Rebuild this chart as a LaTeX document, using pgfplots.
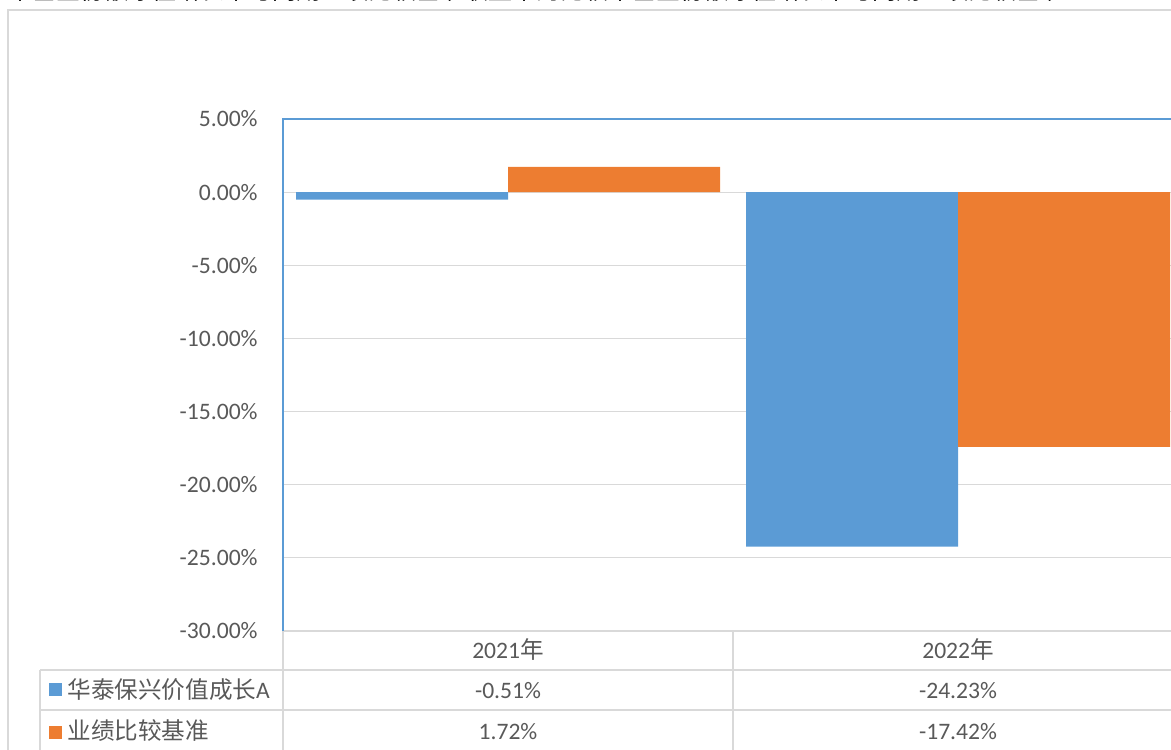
\documentclass[border=0pt]{standalone}
\usepackage{pgfplots}
\pgfplotsset{compat=1.18}
\usepackage{fontspec}
\setmainfont{Carlito}
\newfontfamily\cjk{Noto Sans CJK SC}
\definecolor{sblue}{HTML}{5B9BD5}
\definecolor{sorange}{HTML}{ED7D31}
\definecolor{gridc}{HTML}{D9D9D9}
\definecolor{txt}{HTML}{595959}
\begin{document}
\begin{tikzpicture}
\useasboundingbox (0,0) rectangle (585.5pt,-374.5pt);
\begin{scope}[x=0.5pt,y=-0.5pt]
 \node[anchor=base west, inner sep=0pt, font=\cjk\fontsize{12}{14}\selectfont] at (8,-0.6) {本基金份额净值增长率与同期业绩比较基准收益率的比较本基金份额净值增长率与同期业绩比较基准};
 \draw[gridc, line width=1pt] (8,760) -- (8,10) -- (1180,10);
 \draw[gridc, line width=1pt] (283,631) -- (1180,631);
 \draw[gridc, line width=1pt] (40,670) -- (1180,670);
 \draw[gridc, line width=1pt] (40,710) -- (1180,710);
 \draw[gridc, line width=1pt] (40,670) -- (40,760);
 \draw[gridc, line width=1pt] (283,631) -- (283,760);
 \draw[gridc, line width=1pt] (733,631) -- (733,760);
 \begin{scope}[every node/.style={text=txt, inner sep=0pt, anchor=base, font=\fontsize{11.8}{14}\selectfont}]
  \node at (508,658) {2021{\cjk 年}};
  \node at (958,658) {2022{\cjk 年}};
  \node at (508,698) {-0.51\%};
  \node at (958,698) {-24.23\%};
  \node at (508,739) {1.72\%};
  \node at (958,739) {-17.42\%};
  \node[anchor=base west] at (67,698) {{\cjk 华泰保兴价值成长}A};
  \node[anchor=base west] at (67,739) {\cjk 业绩比较基准};
 \end{scope}
 \fill[sblue] (49,683) rectangle (62,696);
 \fill[sorange] (49,726) rectangle (62,739);
\end{scope}
\begin{axis}[
  at={(141.5pt,-315.5pt)}, anchor=south west,
  scale only axis, width=450pt, height=256pt,
  xmin=0, xmax=2, ymin=-30, ymax=5,
  xtick=\empty,
  ytick={-30,-25,-20,-15,-10,-5,0,5},
  yticklabels={-30.00\%,-25.00\%,-20.00\%,-15.00\%,-10.00\%,-5.00\%,0.00\%,5.00\%},
  yticklabel style={text=txt, font=\fontsize{11.8}{14}\selectfont, inner sep=0pt, xshift=-12.5pt},
  major tick length=0pt,
  axis line style={draw=none},
  ymajorgrids, grid style={gridc, line width=0.5pt},
  ybar, bar width=106pt,
  clip=false,
]
\addplot[fill=sblue, draw=none, bar shift=-53pt] coordinates {(0.5,-0.51) (1.5,-24.23)};
\addplot[fill=sorange, draw=none, bar shift=53pt] coordinates {(0.5,1.72) (1.5,-17.42)};
\draw[sblue, line width=0.9pt] (axis cs:0,-30) -- (axis cs:0,5) -- (axis cs:2.1,5);
\end{axis}
\end{tikzpicture}
\end{document}
